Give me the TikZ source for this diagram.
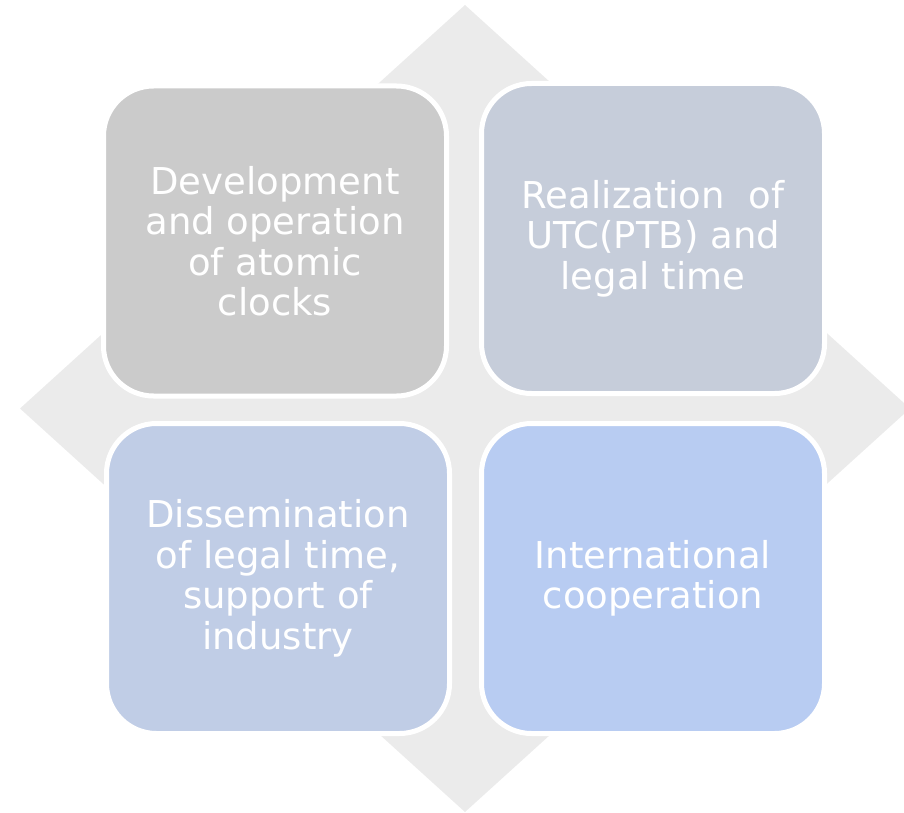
\documentclass[tikz,border=0pt]{standalone}
\usepackage{fontspec}
\setmainfont{DejaVu Sans}
\begin{document}
\begin{tikzpicture}[x=1pt,y=-1pt,
  quad/.style={draw=white, line width=5pt, rounded corners=50pt, inner sep=0pt,
    minimum width=343pt, minimum height=310pt, text=white, align=center,
    font=\fontsize{37}{40.5}\selectfont},
  bgshape/.style={fill=diamondgray, draw=none}]
\definecolor{diamondgray}{HTML}{EBEBEB}
\definecolor{tlfill}{HTML}{CBCBCB}
\definecolor{trfill}{HTML}{C6CDDA}
\definecolor{blfill}{HTML}{C0CDE6}
\definecolor{brfill}{HTML}{B8CCF2}
\useasboundingbox (0,0) rectangle (904,813);
\clip (0,0) rectangle (904,813);
% background diamond
\fill[bgshape] (465,5) -- (910,408.5) -- (465,812) -- (20,408.5) -- cycle;
% four quadrant boxes
\node[quad, fill=tlfill] (dev) at (275,241) {Development\\and operation\\of atomic\\clocks};
\node[quad, fill=trfill] (utc) at (653,238.5) {Realization\ \ of\\UTC(PTB) and\\legal time};
\node[quad, fill=blfill] (dis) at (278,578.5) {Dissemination\\of legal time,\\support of\\industry};
\node[quad, fill=brfill] (int) at (653,578.5) {International\\cooperation};
\end{tikzpicture}
\end{document}
